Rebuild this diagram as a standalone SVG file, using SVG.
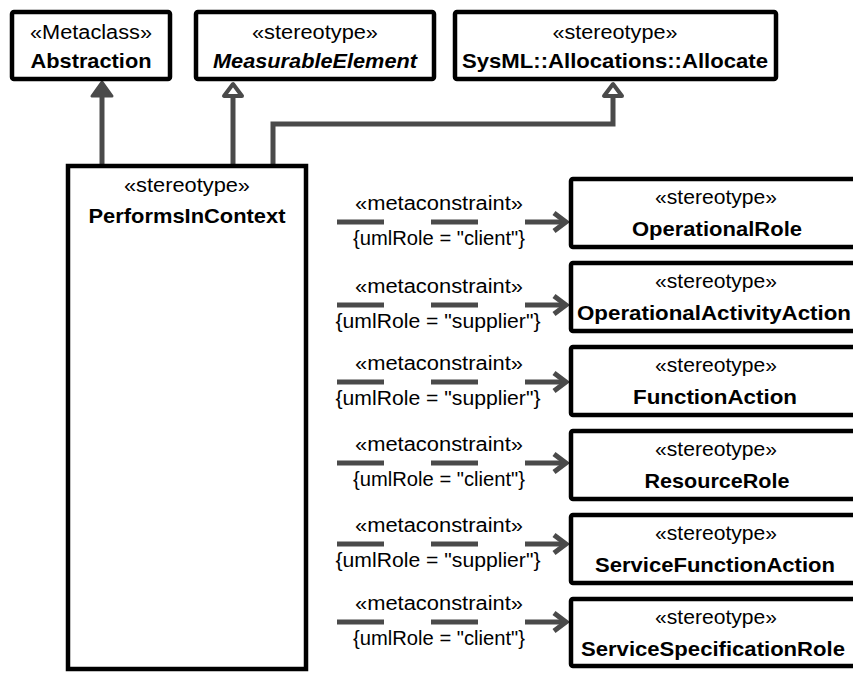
<svg xmlns="http://www.w3.org/2000/svg" width="853" height="673" viewBox="0 0 853 673">
<style>
.box{fill:#fff;stroke:#000;stroke-width:4.5}
.t{font-family:"Liberation Sans",Arial,sans-serif;font-size:20px;text-anchor:middle;fill:#000}
.b{font-weight:bold;font-size:21px}
.i{font-style:italic}
.gen{fill:none;stroke:#4a4a4a;stroke-width:5}
.dep{fill:none;stroke:#4a4a4a;stroke-width:5;stroke-dasharray:47 47}
.head{fill:none;stroke:#4a4a4a;stroke-width:5;stroke-linejoin:miter}
.lbl{font-family:"Liberation Sans",Arial,sans-serif;font-size:19.5px;text-anchor:middle;fill:#000}
</style>
<rect width="853" height="673" fill="#fff"/>
<g id="connectors">
<line class="gen" x1="102" y1="166" x2="102" y2="92"/>
<polygon points="102,82 92,96 112,96" fill="#4a4a4a" stroke="#4a4a4a" stroke-width="3" stroke-linejoin="round"/>
<line class="gen" x1="233" y1="166" x2="233" y2="96"/>
<polygon points="233,84 224,96 242,96" fill="#fff" stroke="#4a4a4a" stroke-width="4" stroke-linejoin="round"/>
<polyline class="gen" points="273,166 273,124 613,124 613,96"/>
<polygon points="613,84 604,96 622,96" fill="#fff" stroke="#4a4a4a" stroke-width="4" stroke-linejoin="round"/>
<g id="d1"><line class="dep" x1="337" y1="222" x2="565" y2="222"/><polyline class="head" points="554,213 566,222 554,231"/><text class="lbl" x="439" y="210" textLength="168" lengthAdjust="spacingAndGlyphs">«metaconstraint»</text><text class="lbl" x="439" y="245" textLength="172" lengthAdjust="spacingAndGlyphs">{umlRole = "client"}</text></g>
<g id="d2"><line class="dep" x1="337" y1="305" x2="565" y2="305"/><polyline class="head" points="554,296 566,305 554,314"/><text class="lbl" x="439" y="293" textLength="168" lengthAdjust="spacingAndGlyphs">«metaconstraint»</text><text class="lbl" x="438" y="328" textLength="205" lengthAdjust="spacingAndGlyphs">{umlRole = "supplier"}</text></g>
<g id="d3"><line class="dep" x1="337" y1="382" x2="565" y2="382"/><polyline class="head" points="554,373 566,382 554,391"/><text class="lbl" x="439" y="370" textLength="168" lengthAdjust="spacingAndGlyphs">«metaconstraint»</text><text class="lbl" x="438" y="405" textLength="205" lengthAdjust="spacingAndGlyphs">{umlRole = "supplier"}</text></g>
<g id="d4"><line class="dep" x1="337" y1="463" x2="565" y2="463"/><polyline class="head" points="554,454 566,463 554,472"/><text class="lbl" x="439" y="451" textLength="168" lengthAdjust="spacingAndGlyphs">«metaconstraint»</text><text class="lbl" x="439" y="486" textLength="172" lengthAdjust="spacingAndGlyphs">{umlRole = "client"}</text></g>
<g id="d5"><line class="dep" x1="337" y1="544" x2="565" y2="544"/><polyline class="head" points="554,535 566,544 554,553"/><text class="lbl" x="439" y="532" textLength="168" lengthAdjust="spacingAndGlyphs">«metaconstraint»</text><text class="lbl" x="438" y="567" textLength="205" lengthAdjust="spacingAndGlyphs">{umlRole = "supplier"}</text></g>
<g id="d6"><line class="dep" x1="337" y1="622" x2="565" y2="622"/><polyline class="head" points="554,613 566,622 554,631"/><text class="lbl" x="439" y="610" textLength="168" lengthAdjust="spacingAndGlyphs">«metaconstraint»</text><text class="lbl" x="439" y="645" textLength="172" lengthAdjust="spacingAndGlyphs">{umlRole = "client"}</text></g>
</g>
<g id="abstraction"><rect class="box" x="12" y="12" width="158" height="67" rx="2"/><text class="t" x="91" y="39" textLength="122" lengthAdjust="spacingAndGlyphs">«Metaclass»</text><text class="t b" x="91" y="68" textLength="121" lengthAdjust="spacingAndGlyphs">Abstraction</text></g>
<g id="measurable"><rect class="box" x="196" y="12" width="238" height="67" rx="2"/><text class="t" x="315" y="39" textLength="126" lengthAdjust="spacingAndGlyphs">«stereotype»</text><text class="t b i" x="315" y="68" textLength="204" lengthAdjust="spacingAndGlyphs">MeasurableElement</text></g>
<g id="allocate"><rect class="box" x="455" y="12" width="321" height="67" rx="2"/><text class="t" x="615" y="39" textLength="125" lengthAdjust="spacingAndGlyphs">«stereotype»</text><text class="t b" x="615" y="68" textLength="306" lengthAdjust="spacingAndGlyphs">SysML::Allocations::Allocate</text></g>
<g id="performs"><rect class="box" x="68" y="166" width="238" height="503"/><text class="t" x="187" y="192" textLength="126" lengthAdjust="spacingAndGlyphs">«stereotype»</text><text class="t b" x="187" y="223" textLength="197" lengthAdjust="spacingAndGlyphs">PerformsInContext</text></g>
<g id="opRole"><rect class="box" x="571" y="179" width="292" height="68" rx="2"/><text class="t" x="716" y="204" textLength="122" lengthAdjust="spacingAndGlyphs">«stereotype»</text><text class="t b" x="717" y="236" textLength="170" lengthAdjust="spacingAndGlyphs">OperationalRole</text></g>
<g id="opAction"><rect class="box" x="571" y="263" width="292" height="68" rx="2"/><text class="t" x="716" y="288" textLength="122" lengthAdjust="spacingAndGlyphs">«stereotype»</text><text class="t b" x="714" y="320" textLength="274" lengthAdjust="spacingAndGlyphs">OperationalActivityAction</text></g>
<g id="funcAction"><rect class="box" x="571" y="347" width="292" height="68" rx="2"/><text class="t" x="716" y="372" textLength="122" lengthAdjust="spacingAndGlyphs">«stereotype»</text><text class="t b" x="715" y="404" textLength="164" lengthAdjust="spacingAndGlyphs">FunctionAction</text></g>
<g id="resRole"><rect class="box" x="571" y="431" width="292" height="68" rx="2"/><text class="t" x="716" y="456" textLength="122" lengthAdjust="spacingAndGlyphs">«stereotype»</text><text class="t b" x="717" y="488" textLength="145" lengthAdjust="spacingAndGlyphs">ResourceRole</text></g>
<g id="sfAction"><rect class="box" x="571" y="515" width="292" height="68" rx="2"/><text class="t" x="716" y="540" textLength="122" lengthAdjust="spacingAndGlyphs">«stereotype»</text><text class="t b" x="715" y="572" textLength="240" lengthAdjust="spacingAndGlyphs">ServiceFunctionAction</text></g>
<g id="ssRole"><rect class="box" x="571" y="599" width="292" height="67" rx="2"/><text class="t" x="716" y="624" textLength="122" lengthAdjust="spacingAndGlyphs">«stereotype»</text><text class="t b" x="713" y="656" textLength="264" lengthAdjust="spacingAndGlyphs">ServiceSpecificationRole</text></g>
</svg>
